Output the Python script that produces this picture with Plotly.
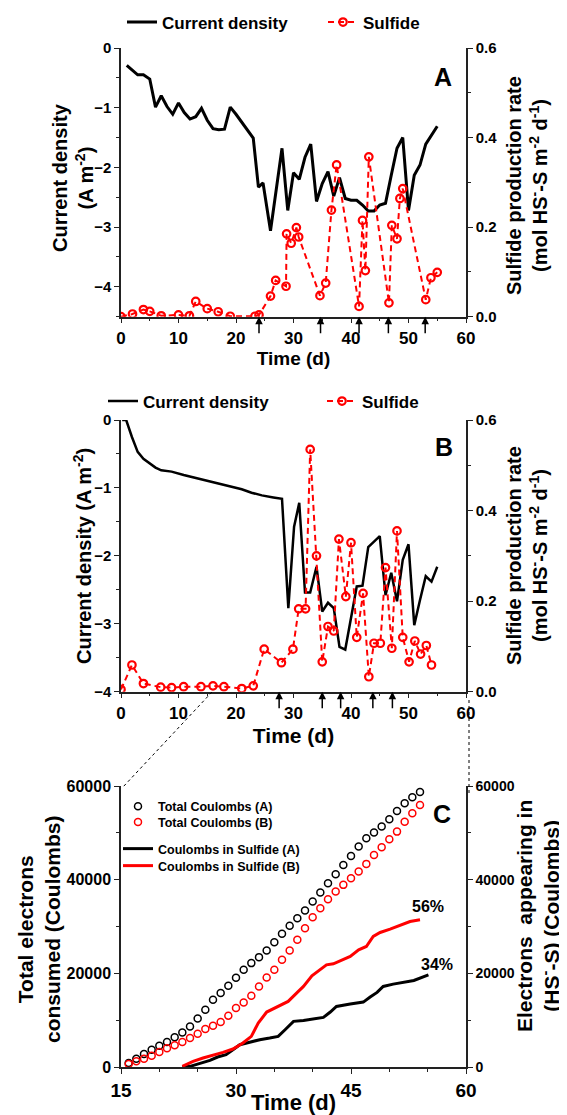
import plotly.graph_objects as go

# ---------------- data ----------------
# Panel A
a_cd_day = [1, 2.9, 3.9, 5, 6, 7, 8, 9, 10, 11, 12, 13, 14, 15, 16, 17, 18, 19, 20, 21, 22, 23,
            23.9, 24.7, 26, 27, 28, 29, 30, 31, 32, 33, 34, 35, 36, 37, 38, 39, 40, 41, 42, 43,
            44, 45, 46, 47, 48, 49, 50, 51, 52, 53, 54, 55]
a_cd_val = [-0.29, -0.45, -0.45, -0.52, -0.99, -0.80, -0.98, -1.11, -0.92, -1.08, -1.19, -1.15,
            -1.01, -1.21, -1.35, -1.37, -1.36, -0.99, -1.11, -1.25, -1.37, -1.51, -2.33, -2.26,
            -3.06, -2.38, -1.68, -2.72, -2.09, -2.20, -1.83, -1.61, -2.57, -2.27, -2.07, -2.48,
            -2.17, -2.52, -2.55, -2.55, -2.63, -2.73, -2.73, -2.63, -2.60, -2.13, -1.68, -1.50,
            -2.72, -2.13, -1.96, -1.61, -1.46, -1.31]
a_sul_day = [0, 2, 3.9, 5, 7, 10, 11.9, 13, 15, 16.9, 19, 23.3, 24, 26, 26.9, 28.7, 28.8, 29.6,
             30.5, 30.9, 34.6, 35.6, 36.6, 37.5, 41.4, 42, 42.5, 43.1, 46.6, 47.1, 48, 48.5, 49,
             53, 53.9, 55]
a_sul_val = [0, 0.006, 0.016, 0.012, 0.002, 0.004, 0.002, 0.034, 0.018, 0.011, 0.001, 0.001,
             0.004, 0.046, 0.081, 0.068, 0.185, 0.164, 0.199, 0.178, 0.047, 0.075, 0.238, 0.339,
             0.023, 0.215, 0.103, 0.357, 0.031, 0.204, 0.174, 0.264, 0.286, 0.038, 0.087, 0.099]
a_arrows = [24, 34.7, 41.4, 46.5, 52.9]

# Panel B
b_cd_day = [0.2, 0.9, 1.9, 2.9, 3.9, 4.8, 6, 7, 8.8, 10.9, 13.2, 15.5, 17.8, 21, 22.7, 24.5,
            26.5, 28, 29.1, 30.1, 31, 32, 32.9, 34, 35, 36, 37, 38, 39, 40, 41, 42, 43, 44, 45,
            46, 47, 48, 49, 50, 51, 52, 53, 54, 55]
b_cd_val = [0, 0, -0.25, -0.47, -0.57, -0.63, -0.70, -0.74, -0.76, -0.81, -0.86, -0.91, -0.96,
            -1.02, -1.07, -1.11, -1.14, -1.16, -2.77, -1.57, -1.22, -2.54, -2.54, -2.16, -2.82,
            -2.69, -2.77, -3.34, -3.38, -2.94, -2.45, -2.44, -1.87, -1.79, -1.71, -2.58, -2.25,
            -2.67, -2.06, -1.83, -3.02, -2.65, -2.30, -2.38, -2.16]
b_sul_day = [0, 1.9, 3.9, 6.9, 8.8, 10.9, 13.9, 16, 17.9, 21, 23, 24.9, 27.9, 29.9, 30.9, 32.1,
             32.9, 34, 35, 36, 37, 37.9, 39.1, 40, 41, 42.1, 43.1, 44, 45.1, 46, 47.1, 48, 49,
             50.1, 51.1, 52.1, 53.1, 54]
b_sul_val = [0.005, 0.059, 0.018, 0.010, 0.009, 0.011, 0.011, 0.013, 0.011, 0.007, 0.013, 0.094,
             0.064, 0.094, 0.183, 0.183, 0.535, 0.300, 0.066, 0.144, 0.134, 0.337, 0.210, 0.329,
             0.120, 0.217, 0.033, 0.107, 0.107, 0.274, 0.096, 0.355, 0.120, 0.066, 0.112, 0.083,
             0.102, 0.059]
b_arrows = [27.5, 35, 38.2, 43.8, 47.2]

# Panel C
c_tot_day = [16, 17, 18, 19, 20, 21, 22, 23, 24, 25, 26, 27, 28, 29, 30, 31, 32, 33, 34, 35,
             36, 37, 38, 39, 40, 41, 42, 43, 44, 45, 46, 47, 48, 49, 50, 51, 52, 53, 54]
c_tot_a = [850, 1780, 2770, 3700, 4550, 5330, 6330, 7390, 8670, 10380, 12230, 14360, 15780,
           17350, 19050, 20760, 22180, 23460, 24880, 26660, 28440, 30140, 31780, 33410, 35330,
           37250, 39240, 41160, 43150, 45070, 47060, 48840, 50050, 51330, 52890, 54670, 56300,
           57580, 58720]
c_tot_b = [640, 1210, 1780, 2420, 3200, 3980, 4620, 5330, 6180, 7110, 8100, 8820, 9600, 10950,
           12580, 13790, 15210, 17200, 19120, 20760, 22890, 24880, 27160, 29640, 31990, 33910,
           35830, 37460, 38890, 40310, 41730, 43370, 45290, 46920, 48630, 50260, 52390, 54170,
           55950]
c_sa_day = [23, 24, 25.2, 26.6, 27.6, 28.7, 29.6, 30.5, 31.4, 33.1, 34.4, 35.5, 36.4, 37.5,
            38.8, 40.1, 41.4, 42.3, 43.1, 44.9, 46.6, 47.5, 48.4, 49.2, 50.5, 53.2, 55.1]
c_sa_val = [0, 140, 710, 1420, 2130, 2630, 3700, 4760, 5120, 5830, 6180, 6540, 7960, 9740,
            9950, 10240, 10590, 11730, 12940, 13440, 13860, 14930, 15920, 17200, 17700, 18480,
            19690]
c_sb_day = [23, 24.4, 25.7, 27, 28.3, 29.6, 30.9, 32, 32.9, 34, 34.8, 35.9, 36.8, 37.9, 38.8,
            39.9, 40.7, 41.8, 42.7, 43.8, 44.9, 46, 47, 47.9, 48.8, 50.1, 51.4, 52.7, 54]
c_sb_val = [140, 1210, 1920, 2490, 3130, 3840, 5120, 6540, 9380, 11730, 12370, 13290, 14000,
            15780, 17200, 19480, 20400, 21820, 22040, 22890, 23600, 25020, 25730, 27870, 28720,
            29430, 30210, 31070, 31420]
pct_labels = ["56%", "34%"]
pct_x = [55.1, 56.2]
pct_y = [34300, 21800]

# ---------------- geometry helpers (target-page pixels) ----------------
W, H = 567, 1115
OFF = 8                      # default page body margin
PL, PR = 121, 466            # plot area left / right on the page
PT, PB = 48, 1067            # plot area top / bottom on the page
FW, FH = W - OFF, H - OFF    # figure size


def fx(p):
    return (p - PL) / (PR - PL)


def fy(p):
    return (PB - p) / (PB - PT)


FONT = "Liberation Sans, Arial, sans-serif"
RED = "#ff0000"
AX = "#222222"


def f(size, color="black"):
    return dict(family=FONT, size=size, color=color, weight="bold")


fig = go.Figure()

# Panel A traces
fig.add_trace(go.Scatter(x=a_cd_day, y=a_cd_val, mode="lines", name="Current density",
                         line=dict(color="black", width=3), xaxis="x", yaxis="y",
                         legend="legend"))
fig.add_trace(go.Scatter(x=a_sul_day, y=a_sul_val, mode="lines+markers", name="Sulfide",
                         line=dict(color=RED, width=2, dash="6px,4px"),
                         marker=dict(symbol="circle-open", size=7.5, color=RED,
                                     line=dict(width=2.2, color=RED)),
                         xaxis="x", yaxis="y2", legend="legend2"))
# Panel B traces
fig.add_trace(go.Scatter(x=b_cd_day, y=b_cd_val, mode="lines", name="Current density",
                         line=dict(color="black", width=2.5), xaxis="x2", yaxis="y3",
                         legend="legend3"))
fig.add_trace(go.Scatter(x=b_sul_day, y=b_sul_val, mode="lines+markers", name="Sulfide",
                         line=dict(color=RED, width=2, dash="6px,4px"),
                         marker=dict(symbol="circle-open", size=7.5, color=RED,
                                     line=dict(width=2.2, color=RED)),
                         xaxis="x2", yaxis="y4", legend="legend4"))
# Panel C traces
fig.add_trace(go.Scatter(x=c_tot_day, y=c_tot_a, mode="markers", name="Total Coulombs (A)",
                         marker=dict(symbol="circle-open", size=7, color="black",
                                     line=dict(width=1.5, color="black")),
                         xaxis="x3", yaxis="y5", legend="legend5"))
fig.add_trace(go.Scatter(x=c_tot_day, y=c_tot_b, mode="markers", name="Total Coulombs (B)",
                         marker=dict(symbol="circle-open", size=7, color=RED,
                                     line=dict(width=1.5, color=RED)),
                         xaxis="x3", yaxis="y5", legend="legend6"))
fig.add_trace(go.Scatter(x=c_sa_day, y=c_sa_val, mode="lines", name="Coulombs in Sulfide (A)",
                         line=dict(color="black", width=3), xaxis="x3", yaxis="y6",
                         legend="legend7"))
fig.add_trace(go.Scatter(x=c_sb_day, y=c_sb_val, mode="lines", name="Coulombs in Sulfide (B)",
                         line=dict(color=RED, width=3), xaxis="x3", yaxis="y6",
                         legend="legend8"))

dom_a = [fy(316.7), 1.0]
dom_b = [fy(691.7), fy(420)]
dom_c = [0.0, fy(786)]

common = dict(showline=True, linecolor=AX, linewidth=1.5, ticks="outside", ticklen=5,
              tickwidth=1.3, tickcolor=AX, showgrid=False, zeroline=False)
minor = dict(ticks="outside", ticklen=3, tickwidth=1.2, tickcolor=AX, showgrid=False)


def xax(anchor, rng, dtick, mdtick, tsize, title, tisize, standoff):
    return dict(common, anchor=anchor, domain=[0, 1], range=rng, dtick=dtick, tick0=0,
                minor=dict(minor, dtick=mdtick), tickfont=f(tsize),
                title=dict(text=title, font=f(tisize), standoff=standoff))


def xtop(over, anchor, rng, dtick):
    return dict(overlaying=over, anchor=anchor, side="top", range=rng, dtick=dtick, tick0=0,
                showline=True, linecolor=AX, linewidth=1.5, ticks="inside", ticklen=5,
                tickwidth=1.2, tickcolor=AX, showticklabels=False, showgrid=False,
                zeroline=False)


def yax(anchor, dom, rng, dtick, mdtick, tsize, fmt=None):
    d = dict(common, anchor=anchor, domain=dom, range=rng, dtick=dtick, tick0=0,
             minor=dict(minor, dtick=mdtick), tickfont=f(tsize))
    if fmt:
        d["tickformat"] = fmt
    return d


def yright(over, anchor, rng, dtick, mdtick, tsize, fmt=None):
    d = dict(common, overlaying=over, anchor=anchor, side="right", range=rng, dtick=dtick,
             tick0=0, minor=dict(minor, dtick=mdtick), tickfont=f(tsize))
    if fmt:
        d["tickformat"] = fmt
    return d


fig.update_layout(
    width=FW, height=FH,
    margin=dict(l=PL - OFF, r=W - PR, t=PT - OFF, b=H - PB, pad=0, autoexpand=False),
    paper_bgcolor="white", plot_bgcolor="white",
    font=dict(family=FONT, color="black", weight="bold"),
    xaxis=xax("y", [0, 60], 10, 5, 17, "Time (d)", 19, 5),
    xaxis4=xtop("x", "y", [0, 60], 5),
    yaxis=yax("x", dom_a, [-4.5, 0], 1, 0.5, 15),
    yaxis2=yright("y", "x", [0, 0.6], 0.2, 0.1, 15, ".1f"),
    xaxis2=xax("y3", [0, 60], 10, 5, 17, "Time (d)", 21, 6),
    xaxis5=xtop("x2", "y3", [0, 60], 5),
    yaxis3=yax("x2", dom_b, [-4, 0], 1, 0.5, 15),
    yaxis4=yright("y3", "x2", [0, 0.6], 0.2, 0.1, 15, ".1f"),
    xaxis3=xax("y5", [15, 60], 15, 5, 19, "Time (d)", 22, 6),
    xaxis6=xtop("x3", "y5", [15, 60], 5),
    yaxis5=yax("x3", dom_c, [0, 60000], 20000, 10000, 16, "d"),
    yaxis6=yright("y5", "x3", [0, 60000], 20000, 10000, 14, "d"),
    showlegend=True,
)


# legends (one per entry for precise placement), positioned in container pixels
def leg(x_text, y_center, size):
    return dict(x=(x_text - 40 - OFF) / FW, y=1 - (y_center - OFF) / FH,
                xref="container", yref="container",
                xanchor="left", yanchor="middle", orientation="v",
                bgcolor="rgba(0,0,0,0)", borderwidth=0,
                font=f(size), itemclick=False, itemdoubleclick=False)


fig.update_layout(
    legend=leg(162, 22.5, 17),
    legend2=leg(363, 22.5, 17),
    legend3=leg(143, 401.5, 17),
    legend4=leg(362, 401.5, 17),
    legend5=leg(158, 806.7, 12.5),
    legend6=leg(158, 822.3, 12.5),
    legend7=leg(158, 849, 12.5),
    legend8=leg(158, 866, 12.5),
)

sulf_title = "Sulfide production rate<br>(mol HS<sup>-</sup>-S m<sup>-2</sup> d<sup>-1</sup>)"
y_titles = [
    ("Current density<br>(A m<sup>-2</sup>)", 73, 178, 20),
    (sulf_title, 527, 186, 20),
    ("Current density (A m<sup>-2</sup>)", 82, 556, 20),
    (sulf_title, 527, 556, 20),
    ("Total electrons<br>consumed (Coulombs)", 39, 929, 21),
    ("Electrons\u00a0 appearing in<br>(HS<sup>-</sup>-S) (Coulombs)", 538, 916, 21),
]

annotations = []
for t, px, py, sz in y_titles:
    annotations.append(dict(x=fx(px), y=fy(py), xref="paper", yref="paper", text=t,
                            textangle=-90, showarrow=False, font=f(sz),
                            xanchor="center", yanchor="middle"))
for d in a_arrows:
    annotations.append(dict(x=d, y=-4.5, xref="x", yref="y", text="", showarrow=True,
                            ax=0, ay=18, arrowhead=2, arrowsize=1, arrowwidth=1.5,
                            arrowcolor="black", standoff=0))
for d in b_arrows:
    annotations.append(dict(x=d, y=-4, xref="x2", yref="y3", text="", showarrow=True,
                            ax=0, ay=18, arrowhead=2, arrowsize=1, arrowwidth=1.5,
                            arrowcolor="black", standoff=0))
for t, xx, yy in zip(pct_labels, pct_x, pct_y):
    annotations.append(dict(x=xx, y=yy, xref="x3", yref="y5", text=t, showarrow=False,
                            font=f(16)))
for t, px, py in [("A", 443, 77), ("B", 443.5, 447), ("C", 442, 813.5)]:
    annotations.append(dict(x=fx(px), y=fy(py), xref="paper", yref="paper", text=t,
                            showarrow=False, font=f(25), xanchor="center", yanchor="middle"))
fig.update_layout(annotations=annotations)

shapes = [
    dict(type="line", xref="paper", yref="paper", x0=fx(212), y0=fy(692), x1=fx(123),
         y1=fy(787), line=dict(color="black", width=1, dash="dot")),
    dict(type="line", xref="paper", yref="paper", x0=fx(469), y0=fy(700), x1=fx(469),
         y1=fy(796), line=dict(color="black", width=1, dash="dot")),
]
fig.update_layout(shapes=shapes)

fig.write_html("out.html")
